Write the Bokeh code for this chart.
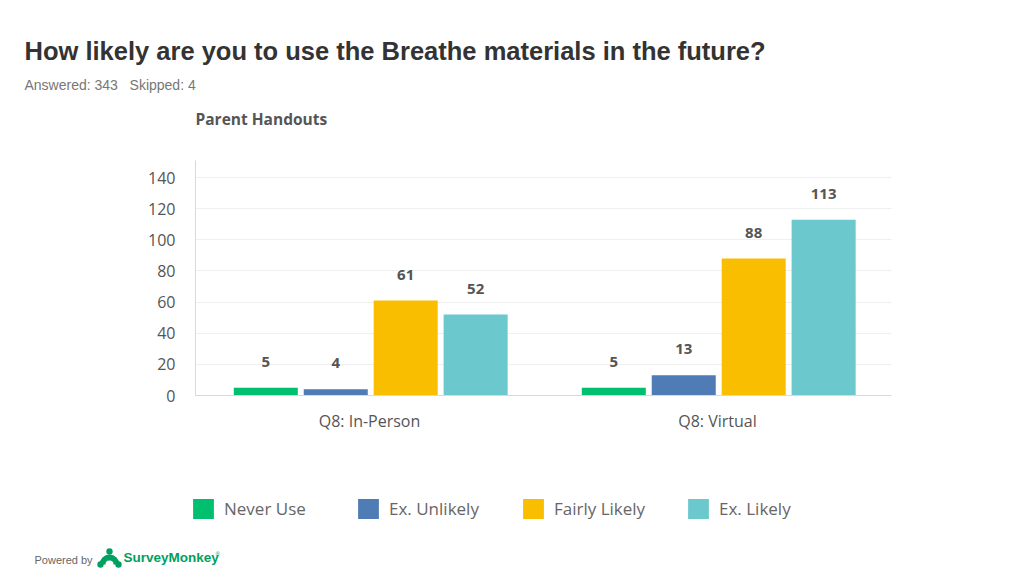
from bokeh.plotting import figure
from bokeh.models import (ColumnDataSource, FactorRange, Range1d, FixedTicker, LabelSet,
                          Label, Legend, LegendItem)
from bokeh.transform import dodge
from bokeh.core.properties import value
from bokeh.layouts import column
from bokeh.embed import file_html
from bokeh.resources import INLINE

categories = ["Q8: In-Person", "Q8: Virtual"]
series_names = ["Never Use", "Ex. Unlikely", "Fairly Likely", "Ex. Likely"]
never_use = [5, 5]
ex_unlikely = [4, 13]
fairly_likely = [61, 88]
ex_likely = [52, 113]
y_ticks = [0, 20, 40, 60, 80, 100, 120, 140]

colors = ["#00bf6f", "#507cb6", "#f9be00", "#6bc8cd"]
keys = ["never", "unlikely", "fairly", "likely"]
offsets = [-0.298, -0.097, 0.104, 0.305]

src = ColumnDataSource(dict(cat=categories, never=never_use, unlikely=ex_unlikely,
                            fairly=fairly_likely, likely=ex_likely,
                            never_t=[str(v) for v in never_use],
                            unlikely_t=[str(v) for v in ex_unlikely],
                            fairly_t=[str(v) for v in fairly_likely],
                            likely_t=[str(v) for v in ex_likely]))

W = 1016
FONT = "Open Sans"
TFONT = "Liberation Sans"
SM_GREEN = "#00a060"


def blank(h):
    f = figure(width=W, height=h, x_range=Range1d(0, W), y_range=Range1d(0, h),
               output_backend="svg", toolbar_location=None, frame_align=False,
               x_axis_location=None, y_axis_location=None, min_border=0)
    f.outline_line_color = None
    f.grid.grid_line_color = None
    return f


def lab(f, x, y, t, size, color, font=TFONT, style="normal"):
    f.add_layout(Label(x=x, y=y, x_units="screen", y_units="screen", text=t,
                       text_font=font, text_font_size=size, text_font_style=style,
                       text_color=color, text_baseline="middle"))


# ---- top: title area (page y 0..160)
top = blank(160)
lab(top, 24, 110, "How likely are you to use the Breathe materials in the future?", "25.5px", "#333333", style="bold")
lab(top, 24, 75.5, "Answered: 343\u00a0\u00a0\u00a0Skipped: 4", "14px", "#777777")
lab(top, 195, 42, "Parent Handouts", "15.5px", "#555555", font=FONT, style="bold")

# ---- main chart (page y 160..450)
p = figure(width=W, height=290, x_range=FactorRange(*categories), y_range=Range1d(0, 151),
           output_backend="svg", toolbar_location=None, frame_align=False,
           min_border_left=195, min_border_top=0, min_border_right=125, min_border_bottom=55)
p.outline_line_color = None

for k, c, off in zip(keys, colors, offsets):
    p.vbar(x=dodge("cat", off, range=p.x_range), top=k, width=0.184, bottom=0,
           source=src, fill_color=c, line_color=None)
    p.add_layout(LabelSet(x=dodge("cat", off, range=p.x_range), y=k, text=k + "_t", source=src,
                          y_offset=26, text_align="center", text_baseline="middle",
                          text_font=value(FONT), text_font_size=value("15px"),
                          text_font_style="bold", text_color="#555555"))

p.xgrid.grid_line_color = None
p.ygrid.grid_line_color = "#efefef"
p.yaxis.ticker = FixedTicker(ticks=y_ticks)
for ax in (p.xaxis[0], p.yaxis[0]):
    ax.major_tick_line_color = None
    ax.minor_tick_line_color = None
    ax.major_tick_out = 0
    ax.major_tick_in = 0
    ax.axis_line_color = "#d9d9d9"
    ax.major_label_text_font = FONT
    ax.major_label_text_font_size = "16px"
    ax.major_label_text_color = "#555555"
p.yaxis.major_label_standoff = 20
p.xaxis.major_label_standoff = 14

# ---- bottom: legend + footer (page y 450..574)
BH = 124
B0 = 450 + BH  # page y of the bottom panel's lower edge


def by(page_y):
    return B0 - page_y


bot = blank(BH)
items = []
for c, name in zip(colors, series_names):
    # zero-size swatch renderer, only used to give the legend its colour
    r = bot.vbar(x=[0], top=[0], bottom=[0], width=0, fill_color=c, line_color=None)
    items.append(LegendItem(label=name, renderers=[r]))
legend = Legend(items=items, orientation="horizontal", location=(190, by(521)),
                glyph_width=26, glyph_height=25, label_standoff=8, label_width=131,
                spacing=0, padding=0, margin=0, border_line_color=None,
                background_fill_alpha=0, label_text_font=FONT,
                label_text_font_size="17px", label_text_color="#666666")
bot.add_layout(legend, "center")

# SurveyMonkey mark (decorative)
bot.annular_wedge(x=[109], y=[by(564)], inner_radius=4, outer_radius=10, start_angle=0,
                  end_angle=3.14159, fill_color=SM_GREEN, line_color=None)
bot.circle(x=[100, 118], y=[by(564), by(564)], radius=3.2, fill_color=SM_GREEN, line_color=None)
bot.circle(x=[109], y=[by(551)], radius=3.2, fill_color=SM_GREEN, line_color=None)

lab(bot, 34, by(559), "Powered by", "11px", "#666666")
lab(bot, 123, by(557), "SurveyMonkey", "13.5px", SM_GREEN, style="bold")
lab(bot, 215, by(553), "®", "6px", SM_GREEN)

layout = column(top, p, bot, spacing=0)
open("out.html", "w").write(file_html(layout, INLINE))
